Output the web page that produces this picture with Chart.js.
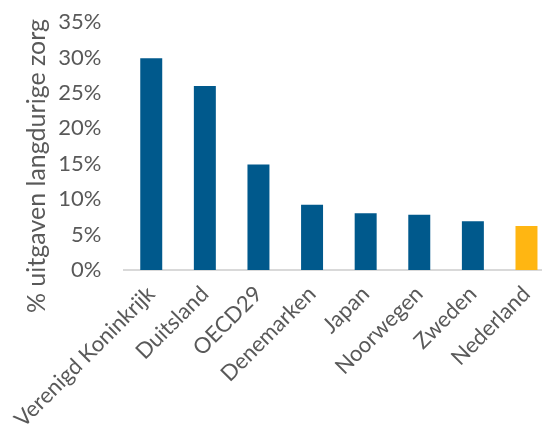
<!DOCTYPE html>
<html>
<head>
<meta charset="utf-8">
<script src="https://cdn.jsdelivr.net/npm/chart.js@4"></script>
<style>
  html, body { margin: 0; padding: 0; background: #fff; overflow: hidden; }
  #wrap { width: 556px; height: 446px; margin-top: -14px; }
</style>
</head>
<body>
<div id="wrap"><canvas id="zorgChart" width="556" height="446"></canvas></div>
<script>
// Uitgaven langdurige zorg per land (% van totaal)
const landen = ['Verenigd Koninkrijk', 'Duitsland', 'OECD29', 'Denemarken', 'Japan', 'Noorwegen', 'Zweden', 'Nederland'];
const uitgaven = [29.9, 26.0, 14.9, 9.2, 8.0, 7.8, 6.9, 6.2];
const kleuren = ['#00598C', '#00598C', '#00598C', '#00598C', '#00598C', '#00598C', '#00598C', '#FFB612'];
const yTicks = [0, 5, 10, 15, 20, 25, 30, 35];
const yTitel = '% uitgaven langdurige zorg';

const grijs = '#595959';
const fontFam = 'Lato, "Open Sans", sans-serif';

// as-titel zelf tekenen, zodat hij net als in het origineel iets lager staat
const titelPlugin = {
  id: 'titel',
  afterDraw(chart) {
    const ctx = chart.ctx;
    ctx.save();
    ctx.translate(37, 180);
    ctx.rotate(-Math.PI / 2);
    ctx.font = '25px ' + fontFam;
    ctx.fillStyle = grijs;
    ctx.textAlign = 'center';
    ctx.textBaseline = 'middle';
    ctx.fillText(yTitel, 0, 0);
    ctx.restore();
  }
};

new Chart(document.getElementById('zorgChart').getContext('2d'), {
  type: 'bar',
  data: {
    labels: landen,
    datasets: [{
      data: uitgaven,
      backgroundColor: kleuren,
      barPercentage: 0.41,
      categoryPercentage: 1.0
    }]
  },
  options: {
    responsive: false,
    animation: false,
    layout: { padding: 0 },
    plugins: { legend: { display: false }, tooltip: { enabled: false } },
    scales: {
      x: {
        grid: { display: false, drawTicks: false },
        border: { display: true, color: '#d9d9d9', width: 2 },
        ticks: {
          color: grijs,
          font: { family: fontFam, size: 22 },
          maxRotation: 45,
          minRotation: 45,
          padding: 11,
          autoSkip: false
        },
        afterFit: (s) => { s.height = 162; }
      },
      y: {
        min: 0,
        max: 35,
        afterBuildTicks: (s) => { s.ticks = yTicks.map(v => ({ value: v })); },
        grid: { display: false, drawTicks: false },
        border: { display: false },
        ticks: {
          color: grijs,
          font: { family: fontFam, size: 22 },
          padding: 23,
          callback: (v) => v + '%'
        },
        afterFit: (s) => { s.width = 122; }
      }
    }
  },
  plugins: [titelPlugin]
});
</script>
</body>
</html>
